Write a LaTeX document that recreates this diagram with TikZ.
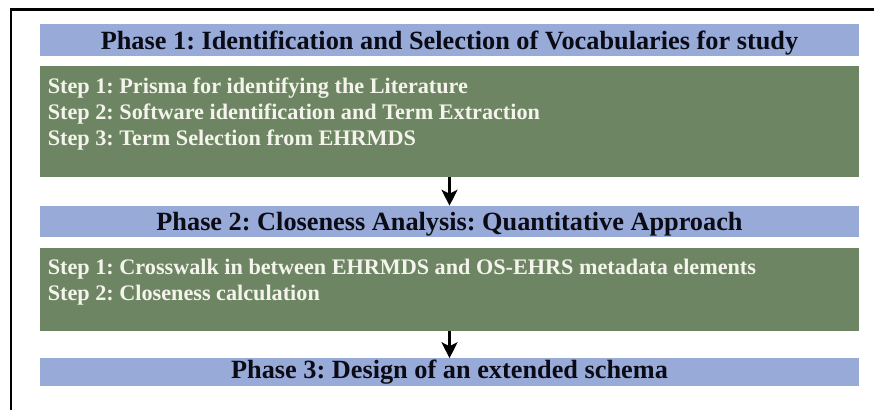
\documentclass[tikz,border=0pt]{standalone}
\usepackage{fontspec}
\setmainfont{Liberation Serif}
\frenchspacing
\usetikzlibrary{arrows.meta}
\definecolor{phaseblue}{HTML}{98AAD7}
\definecolor{stepgreen}{HTML}{6D8562}
\definecolor{stepink}{HTML}{F4F4EC}
\definecolor{phaseink}{HTML}{0B0B16}
\tikzset{
  phasebar/.style={fill=phaseblue,minimum width=819pt,minimum height=32pt,inner sep=0pt,
    text height=18.6pt,text depth=0pt,text=phaseink,font=\fontsize{26.3}{30}\selectfont\bfseries},
  stepbox/.style={fill=stepgreen,minimum width=819pt,inner sep=0pt},
  steplist/.style={anchor=north west,align=left,inner sep=0pt,text=stepink,
    font=\fontsize{22.2}{26.4}\selectfont\bfseries},
  flow/.style={-{Stealth[length=16pt,width=16pt,inset=4pt]},line width=2.2pt}
}
\begin{document}
\begin{tikzpicture}[x=1pt,y=-1pt]
	\useasboundingbox (0,0) rectangle (874,410);
	\draw[line width=2.4pt] (11,410) -- (11,9.5) -- (874,9.5);
	\node[phasebar] (p1) at (449.5,40) {Phase 1: Identification and Selection of Vocabularies for study};
	\node[stepbox,minimum height=111pt] (s1) at (449.5,121.5) {};
	\node[steplist] (l1) at (47.7,77.3) {Step 1: Prisma for identifying the Literature\\Step 2: Software identification and Term Extraction\\Step 3: Term Selection from EHRMDS};
	\node[phasebar,minimum height=31pt,text height=17.2pt] (p2) at (449.5,221.4) {Phase 2: Closeness Analysis: Quantitative Approach};
	\node[stepbox,minimum height=83pt] (s2) at (449.5,289.5) {};
	\node[steplist] (l2) at (47.7,258.5) {Step 1: Crosswalk in between EHRMDS and OS-EHRS metadata elements\\Step 2: Closeness calculation};
	\node[phasebar,minimum height=28pt,text height=11.8pt] (p3) at (449.5,372.4) {Phase 3: Design of an extended schema};
	\draw[flow] (s1) -- (p2);
	\draw[flow] (s2) -- (p3);
\end{tikzpicture}
\end{document}
